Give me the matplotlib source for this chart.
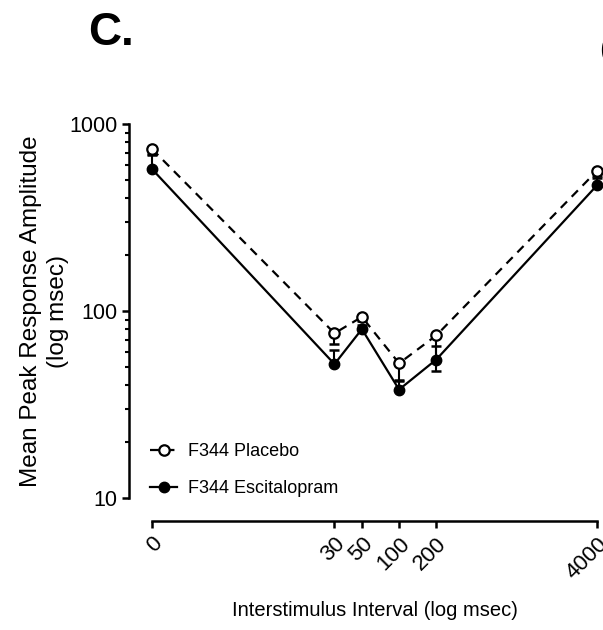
import matplotlib
matplotlib.use("Agg")
import matplotlib.pyplot as plt
from matplotlib.ticker import FixedLocator, NullLocator, LogLocator, NullFormatter, FixedFormatter
import numpy as np

plt.rcParams['font.family'] = ['Liberation Sans', 'DejaVu Sans']

# interstimulus interval (ms); the 0 condition sits at 1 on the log axis
isi = [0, 30, 50, 100, 200, 4000]
isi_labels = ['0', '30', '50', '100', '200', '4000']

placebo = [735, 76, 93, 52.5, 74, 562]
placebo_err = [40, 9, 5, 10, 26, 50]       # drawn below the mean
escitalopram = [574, 52, 80, 38, 55, 470]
escitalopram_err = [110, 10, 4, 4, 10, 60]  # drawn above the mean

x = np.array(isi, dtype=float)
x[x == 0] = 1

fig = plt.figure(figsize=(6.03, 6.30), dpi=100)
ax = fig.add_axes([152/603, 1 - 498/630, (597 - 152)/603, (498 - 124)/630])

ax.set_xscale('log')
ax.set_yscale('log')
ax.set_xlim(1, 4000)
ax.set_ylim(10, 1000)

n = len(x)
ax.errorbar(x, placebo, yerr=[placebo_err, np.zeros(n)], fmt='none',
            ecolor='black', elinewidth=1.5, capsize=3.8, capthick=1.8,
            zorder=2, clip_on=False)
ax.errorbar(x, escitalopram, yerr=[np.zeros(n), escitalopram_err], fmt='none',
            ecolor='black', elinewidth=1.5, capsize=3.8, capthick=1.8,
            zorder=2, clip_on=False)

ax.plot(x, placebo, color='black', linestyle=(0, (4, 3)), linewidth=1.6,
        marker='o', markersize=7.5, markerfacecolor='white',
        markeredgecolor='black', markeredgewidth=1.6,
        label='F344 Placebo', zorder=4, clip_on=False)
ax.plot(x, escitalopram, color='black', linestyle='-', linewidth=1.6,
        marker='o', markersize=7.5, markerfacecolor='black',
        markeredgecolor='black', label='F344 Escitalopram',
        zorder=3, clip_on=False)

for s in ['top', 'right']:
    ax.spines[s].set_visible(False)
ax.spines['left'].set_position(('outward', 16.5))
ax.spines['bottom'].set_position(('outward', 16.5))
ax.spines['left'].set_linewidth(1.8)
ax.spines['bottom'].set_linewidth(1.8)

ax.xaxis.set_major_locator(FixedLocator(x))
ax.xaxis.set_major_formatter(FixedFormatter(isi_labels))
ax.xaxis.set_minor_locator(NullLocator())
ax.yaxis.set_major_locator(FixedLocator([10, 100, 1000]))
ax.yaxis.set_major_formatter(FixedFormatter(['10', '100', '1000']))
ax.yaxis.set_minor_locator(LogLocator(base=10, subs=np.arange(2, 10)))
ax.yaxis.set_minor_formatter(NullFormatter())

ax.tick_params(axis='both', which='major', direction='out', length=5,
               width=1.8, labelsize=15.5, color='black')
ax.tick_params(axis='y', which='minor', direction='out', length=3, width=1.5)
ax.tick_params(axis='x', which='major', pad=4, labelsize=16)
for lab in ax.get_xticklabels():
    lab.set_rotation(45)
    lab.set_ha('right')
    lab.set_va('top')
    lab.set_rotation_mode('anchor')

ax.set_xlabel('Interstimulus Interval (log msec)', fontsize=14.5, labelpad=13)
ax.set_ylabel('Mean Peak Response Amplitude\n(log msec)', fontsize=17.5,
              labelpad=0, linespacing=1.3)

ax.legend(loc='lower left', bbox_to_anchor=(150/603, 1 - 497/630),
          bbox_transform=fig.transFigure, frameon=False, fontsize=13,
          handlelength=1.5, handletextpad=0.6, labelspacing=1.1,
          borderpad=0, borderaxespad=0)

fig.text(88/603, 1 - 45/630, 'C.', fontsize=33, fontweight='bold',
         ha='left', va='baseline')
# edge of the neighbouring panel's label, cut by the crop
fig.text(599/603, 1 - 58/630, '(', fontsize=22,
         ha='left', va='baseline')

fig.savefig('out.png', dpi=100)
